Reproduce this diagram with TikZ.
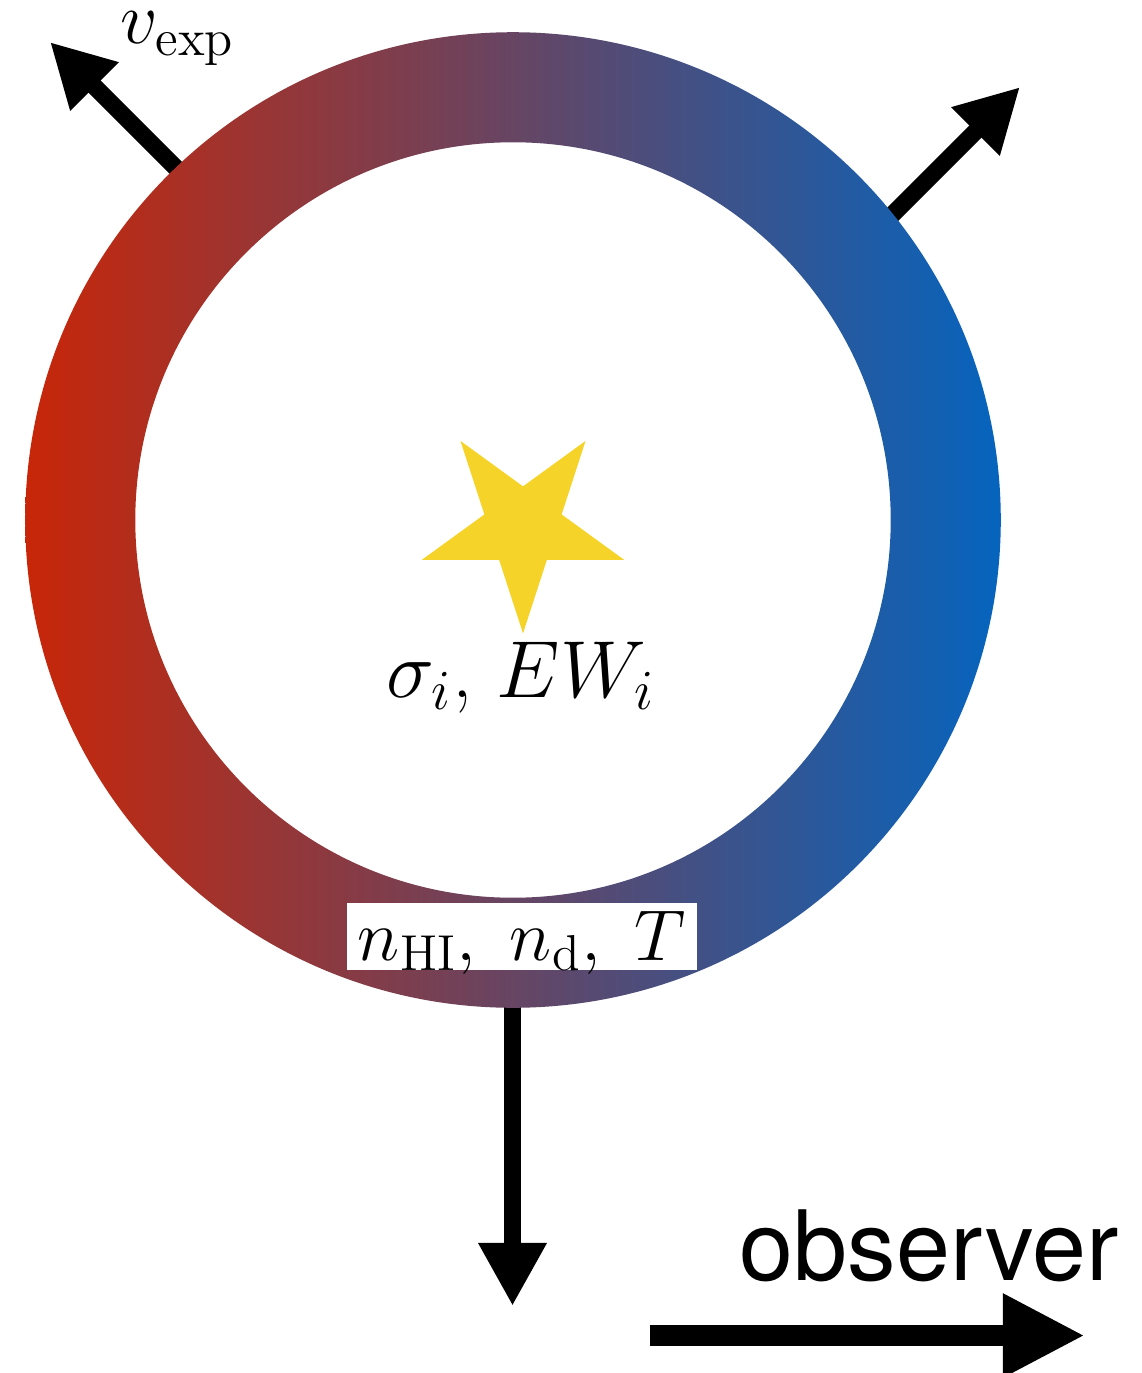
\RequirePackage{fix-cm}
\documentclass[tikz,border=0pt]{standalone}
\usepackage{fontspec}
\newfontfamily\obsfont{TeX Gyre Heros}
\usetikzlibrary{arrows.meta,calc}
\definecolor{ringred}{RGB}{200,38,8}
\definecolor{ringblue}{RGB}{5,100,190}
\definecolor{staryellow}{RGB}{245,211,40}
\begin{document}
\begin{tikzpicture}[x=0.01cm,y=-0.01cm,
  vel/.style={line width=0.17cm,-{Triangle[length=0.63cm,width=0.64cm]}},
  obsarrow/.style={line width=0.21cm,-{Triangle[length=0.82cm,width=0.78cm]}},
  lbl/.style={inner sep=0pt}]
\useasboundingbox (0,0) rectangle (1141,1373);
\coordinate (C) at (513,520);
\coordinate (S) at (523,527);
\coordinate (tlstart) at (190,182);
\coordinate (tltip) at (50,42);
\coordinate (trstart) at (880,227);
\coordinate (trtip) at (1020,87);
\coordinate (bstart) at (512.5,990);
\coordinate (btip) at (512.5,1306);
\coordinate (obsstart) at (650,1335.5);
\coordinate (obstip) at (1085,1335.5);
% velocity arrows (behind the shell)
\draw[vel] (tlstart) -- (tltip);
\draw[vel] (trstart) -- (trtip);
\draw[vel] (bstart) -- (btip);
% shell
\shade[even odd rule,left color=ringred,right color=ringblue]
  (C) circle[radius=4.875cm] (C) circle[radius=3.775cm];
% star
\fill[staryellow]
  ($(S)+(-90:1.063cm)$) -- ($(S)+(-54:0.406cm)$) --
  ($(S)+(-18:1.063cm)$) -- ($(S)+(18:0.406cm)$) --
  ($(S)+(54:1.063cm)$) -- ($(S)+(90:0.406cm)$) --
  ($(S)+(126:1.063cm)$) -- ($(S)+(162:0.406cm)$) --
  ($(S)+(198:1.063cm)$) -- ($(S)+(234:0.406cm)$) -- cycle;
% labels
\node[lbl, anchor=base, font=\fontsize{23}{27}\selectfont] (sig) at (521,697) {$\sigma_i$, $EW_i$};
\node[fill=white, inner sep=0pt, minimum width=3.5cm, minimum height=0.67cm,
  text height=0.52cm, text depth=0.05cm, font=\fontsize{20.5}{25}\selectfont]
  (nlab) at (522,936.5) {$n_{\mathrm{HI}},\ n_{\mathrm{d}},\ T$};
\node[lbl, anchor=base west, font=\fontsize{21}{25}\selectfont] (vexp) at (120,44) {$v_{\mathrm{exp}}$};
\node[lbl, anchor=base east, font=\obsfont\fontsize{27.6}{32}\selectfont] (obs) at (1119,1280) {observer};
\draw[obsarrow] (obsstart) -- (obstip);
\end{tikzpicture}
\end{document}
